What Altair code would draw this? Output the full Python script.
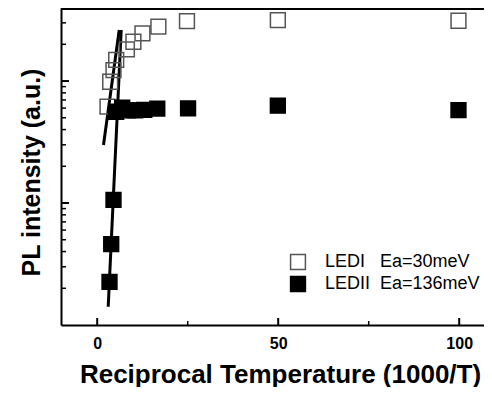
import altair as alt
import pandas as pd

series_names = ["LEDI\u00a0\u00a0\u00a0Ea=30meV", "LEDII\u00a0\u00a0Ea=136meV"]

led1_x = [2.85, 3.59, 4.50, 5.25, 8.20, 10.0, 12.5, 16.9, 24.8, 49.9, 99.8]
led1_y = [6.16, 9.87, 12.3, 14.9, 18.2, 21.0, 24.6, 27.9, 31.0, 31.6, 31.2]

led2_x = [3.40, 3.87, 4.50, 5.25, 6.9, 8.5, 10.5, 13.0, 16.6, 25.1, 49.9, 99.8]
led2_y = [0.226, 0.461, 1.06, 5.6, 6.05, 5.75, 5.75, 5.8, 5.95, 5.97, 6.28, 5.78]

fit1_x = [1.74, 6.08]
fit1_y = [2.99, 26.2]
fit2_x = [3.04, 6.63]
fit2_y = [0.141, 26.2]

x_major = [0, 50, 100]
x_minor = [25, 75]
y_major = [1, 10]
y_minor = [0.2, 0.3, 0.4, 0.5, 0.6, 0.7, 0.8, 0.9, 2, 3, 4, 5, 6, 7, 8, 9, 20, 30]

W, H = 423, 317
FONT = "Liberation Sans"

pts = pd.DataFrame({
    "x": led1_x + led2_x,
    "y": led1_y + led2_y,
    "s": [series_names[0]] * len(led1_x) + [series_names[1]] * len(led2_x),
})
fits = pd.DataFrame({
    "x": fit1_x + fit2_x,
    "y": fit1_y + fit2_y,
    "s": [series_names[0]] * 2 + [series_names[1]] * 2,
})

xs = alt.Scale(domain=[-10, 106.85], nice=False, zero=False)
ys = alt.Scale(type="log", domain=[0.1, 39.7], nice=False)

legend = alt.Legend(
    title=None, orient="none", legendX=228, legendY=245, padding=0,
    symbolType="square", symbolSize=220, symbolStrokeWidth=1.5,
    labelFont=FONT, labelFontSize=18, labelColor="black", labelOffset=18,
    rowPadding=0,
)

xaxis = alt.Axis(
    values=x_major, ticks=False, grid=False, domainWidth=2, domainColor="black",
    labelFont=FONT, labelFontSize=16, labelFontWeight="bold", labelColor="black",
    labelPadding=10, labelFlush=False,
    title="Reciprocal Temperature (1000/T)", titleFont=FONT, titleFontSize=26,
    titleFontWeight="bold", titleColor="black", titleX=219, titleY=49,
    titleBaseline="middle", titleAlign="center",
)
yaxis = alt.Axis(
    labels=False, ticks=False, grid=False, domainWidth=2, domainColor="black",
    title="PL intensity (a.u.)", titleFont=FONT, titleFontSize=25,
    titleFontWeight="bold", titleColor="black", titleX=-30, titleY=164,
    titleBaseline="middle", titleAlign="center",
)


def X(field):
    return alt.X(field, scale=xs, axis=xaxis)


def Y(field):
    return alt.Y(field, scale=ys, axis=yaxis)


lines = alt.Chart(fits).mark_line(color="black", strokeWidth=3).encode(
    x=X("x:Q"), y=Y("y:Q"), detail="s:N",
)

points = alt.Chart(pts).mark_point(shape="square", filled=True, size=220, strokeWidth=1.5, opacity=1).encode(
    x=X("x:Q"), y=Y("y:Q"),
    fill=alt.Fill("s:N", scale=alt.Scale(domain=series_names, range=["transparent", "black"]), legend=legend),
    stroke=alt.Stroke("s:N", scale=alt.Scale(domain=series_names, range=["#555555", "black"]), legend=legend),
)

xmaj = alt.Chart(pd.DataFrame({"x": x_major})).mark_rule(color="black", strokeWidth=2).encode(
    x=X("x:Q"), y=alt.value(H), y2=alt.value(H - 7))
xmin = alt.Chart(pd.DataFrame({"x": x_minor})).mark_rule(color="black", strokeWidth=1.5).encode(
    x=X("x:Q"), y=alt.value(H), y2=alt.value(H - 4))
ymaj = alt.Chart(pd.DataFrame({"y": y_major})).mark_rule(color="black", strokeWidth=2).encode(
    y=Y("y:Q"), x=alt.value(0), x2=alt.value(8))
ymin = alt.Chart(pd.DataFrame({"y": y_minor})).mark_rule(color="black", strokeWidth=1.5).encode(
    y=Y("y:Q"), x=alt.value(0), x2=alt.value(5))
topline = alt.Chart(pd.DataFrame({"a": [0]})).mark_rule(color="black", strokeWidth=2).encode(
    x=alt.value(0), x2=alt.value(W), y=alt.value(1))

chart = alt.layer(lines, xmaj, xmin, ymaj, ymin, topline, points).properties(
    width=W, height=H, autosize="none",
    padding={"left": 53, "top": 0, "right": 0, "bottom": 62},
).configure_view(stroke=None).configure(background="white")

chart.save("out.html", embed_options={"renderer": "svg", "actions": False})
